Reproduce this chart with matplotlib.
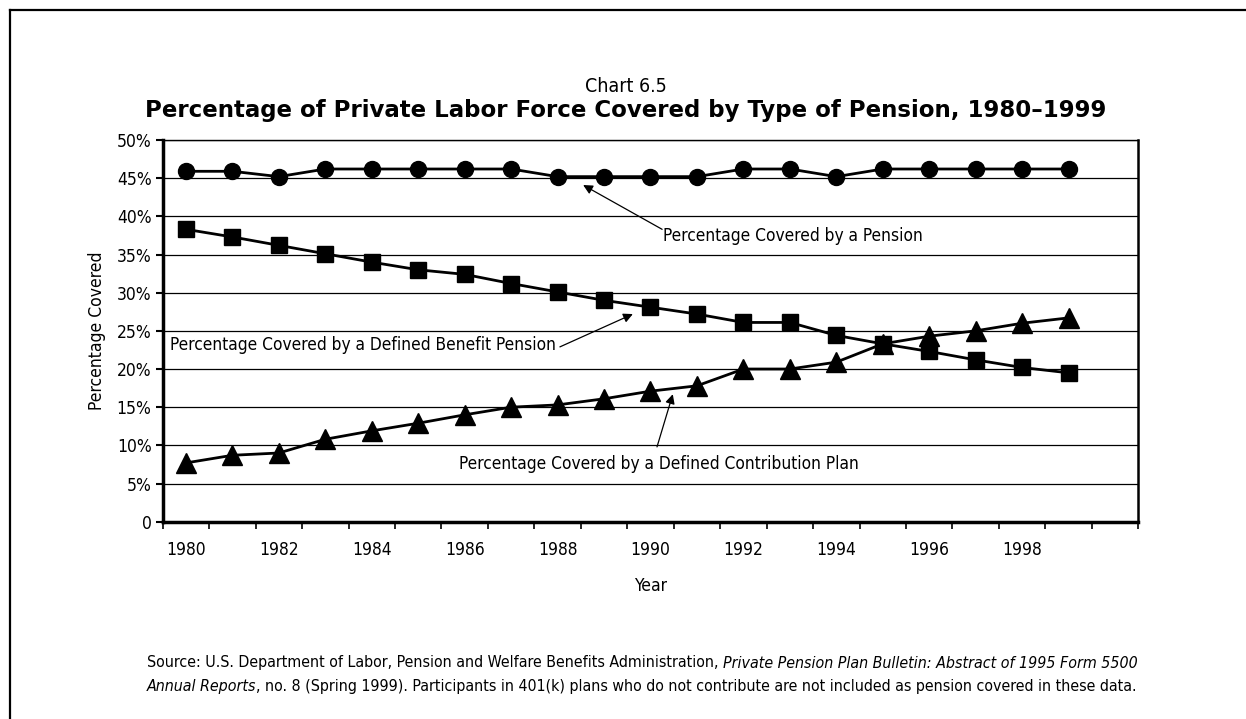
import numpy as np
import matplotlib.pyplot as plt
from matplotlib.lines import Line2D

# Data (percent of private labor force)
years = list(range(1980, 2000))
any_pension = [45.9, 45.9, 45.2, 46.2, 46.2, 46.2, 46.2, 46.2, 45.2, 45.2,
               45.2, 45.2, 46.2, 46.2, 45.2, 46.2, 46.2, 46.2, 46.2, 46.2]
defined_benefit = [38.3, 37.3, 36.2, 35.1, 34.0, 33.0, 32.4, 31.2, 30.1, 29.0,
                   28.1, 27.2, 26.1, 26.1, 24.4, 23.3, 22.3, 21.2, 20.2, 19.5]
defined_contrib = [7.7, 8.7, 9.0, 10.8, 11.9, 12.9, 14.0, 15.0, 15.3, 16.1,
                   17.1, 17.8, 20.0, 20.0, 20.9, 23.3, 24.3, 25.0, 26.0, 26.7]
n_categories = 21  # axis runs 1980-2000, last slot empty
yticks = [0, 5, 10, 15, 20, 25, 30, 35, 40, 45, 50]
ytick_labels = ['0'] + [f'{v}%' for v in yticks[1:]]

plt.rcParams['font.family'] = ['DejaVu Sans']
plt.rcParams['font.stretch'] = 'condensed'

fig = plt.figure(figsize=(12.46, 7.19), dpi=100)
W, H = 1246, 719
ax = fig.add_axes([162.7 / W, 1 - 521.7 / H, (1138.3 - 162.7) / W, (521.7 - 140) / H])

x = np.arange(len(years))
ax.plot(x, any_pension, color='black', lw=2, marker='o', ms=11.5, zorder=3)
ax.plot(x, defined_benefit, color='black', lw=2, marker='s', ms=11, zorder=3)
ax.plot(x, defined_contrib, color='black', lw=2, marker='^', ms=14.5, zorder=3)

ax.set_xlim(-0.5, n_categories - 0.5)
ax.set_ylim(0, 50)
for v in yticks[1:]:
    ax.axhline(v, color='black', lw=0.9, zorder=1)

ax.set_yticks(yticks)
ax.set_yticklabels(ytick_labels, fontsize=12.5)
ax.tick_params(axis='y', direction='out', length=5, width=1.5, pad=3)

ax.set_xticks(np.arange(-0.5, n_categories, 1))
ax.set_xticklabels([])
ax.tick_params(axis='x', which='major', direction='out', length=5, width=1.2)
ax.set_xticks(np.arange(0, 19, 2), minor=True)
ax.set_xticklabels([str(y) for y in years[::2]], minor=True, fontsize=12.5)
ax.tick_params(axis='x', which='minor', length=0, pad=14)

ax.spines['left'].set_linewidth(2.5)
ax.spines['bottom'].set_linewidth(2.5)
ax.spines['right'].set_linewidth(1.8)
ax.spines['top'].set_linewidth(1.0)

ax.set_ylabel('Percentage Covered', fontsize=12.5, labelpad=8)
ax.set_xlabel('Year', fontsize=12.5, labelpad=13)

# Titles
fig.text(0.5025, 1 - 87 / H, 'Chart 6.5', ha='center', va='center', fontsize=14)
fig.text(0.5025, 1 - 111 / H,
         'Percentage of Private Labor Force Covered by Type of Pension, 1980\u20131999',
         ha='center', va='center', fontsize=16.5, fontweight='bold', fontstretch='normal')

# Series annotations: text and arrow drawn separately
afs = 12.4
arrow = dict(arrowstyle='-|>', color='black', lw=0.9, mutation_scale=14, shrinkA=0, shrinkB=0)
ax.text(10.27, 37.4, 'Percentage Covered by a Pension', fontsize=afs, va='center', ha='left')
ax.annotate('', xy=(8.55, 44.1), xytext=(10.25, 38.3), arrowprops=arrow)
ax.text(7.97, 23.1, 'Percentage Covered by a Defined Benefit Pension', fontsize=afs,
        va='center', ha='right')
ax.annotate('', xy=(9.62, 27.2), xytext=(8.05, 22.9), arrowprops=arrow)
ax.text(10.18, 7.5, 'Percentage Covered by a Defined Contribution Plan', fontsize=afs,
        va='center', ha='center')
ax.annotate('', xy=(10.48, 16.7), xytext=(10.14, 9.8), arrowprops=arrow)

# Source note with italic title parts
fs = 11.4
t1 = fig.text(147 / W, 1 - 663 / H,
              'Source: U.S. Department of Labor, Pension and Welfare Benefits Administration, ',
              fontsize=fs, va='center', ha='left')
ax.annotate('Private Pension Plan Bulletin: Abstract of 1995 Form 5500', xy=(1, 0.5),
            xycoords=t1, fontsize=fs, style='italic', va='center', ha='left', annotation_clip=False)
t2 = fig.text(147 / W, 1 - 686 / H, 'Annual Reports', fontsize=fs, style='italic',
              va='center', ha='left')
ax.annotate(', no. 8 (Spring 1999). Participants in 401(k) plans who do not contribute '
            'are not included as pension covered in these data.',
            xy=(1, 0.5), xycoords=t2, fontsize=fs, va='center', ha='left', annotation_clip=False)

# Outer frame (left and top edges)
fig.add_artist(Line2D([10 / W, 10 / W], [0, 1 - 10 / H], color='black', lw=1.6,
                      transform=fig.transFigure))
fig.add_artist(Line2D([10 / W, 1], [1 - 10 / H, 1 - 10 / H], color='black', lw=1.6,
                      transform=fig.transFigure))

fig.savefig('out.png', dpi=100)
